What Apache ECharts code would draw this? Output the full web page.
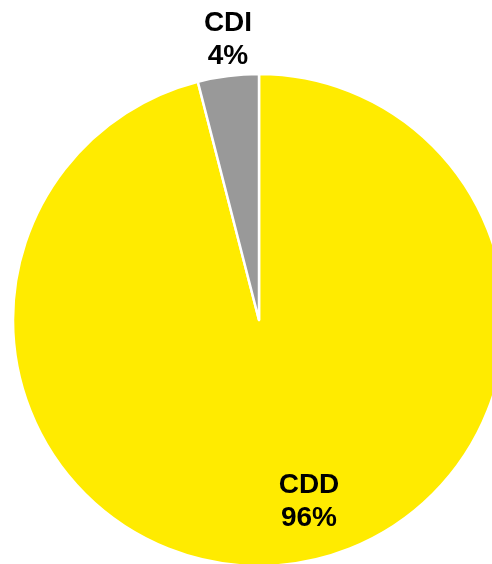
<!DOCTYPE html>
<html><head><meta charset="utf-8">
<script src="https://cdn.jsdelivr.net/npm/echarts@6/dist/echarts.min.js"></script>
<style>html,body{margin:0;padding:0;background:#fff}#c{width:492px;height:564px}</style>
</head><body><div id="c"></div>
<script>
var categories = ['CDD', 'CDI'];
var values = [96, 4];
var colors = ['#FFEB00', '#999999'];
var labelPos = [[309, 502], [228, 40]];

var chart = echarts.init(document.getElementById('c'), null, {renderer: 'canvas'});
chart.setOption({
  animation: false,
  series: [{
    type: 'pie',
    center: [259, 320],
    radius: 246,
    startAngle: 90,
    clockwise: true,
    data: categories.map(function (n, i) {
      return {name: n, value: values[i], itemStyle: {color: colors[i]}};
    }),
    itemStyle: {borderColor: '#fff', borderWidth: 2.5},
    label: {
      show: true,
      position: 'inside',
      formatter: function (p) { return p.name + '\n' + Math.round(p.percent) + '%'; },
      fontFamily: 'Liberation Sans, Arial, sans-serif',
      fontWeight: 'bold',
      fontSize: 28,
      lineHeight: 33,
      color: '#000',
      align: 'center',
      verticalAlign: 'middle'
    },
    labelLine: {show: false},
    emphasis: {disabled: true},
    labelLayout: function (p) {
      var pos = labelPos[p.dataIndex];
      return {x: pos[0], y: pos[1], align: 'center', verticalAlign: 'middle'};
    }
  }]
});
</script></body></html>
